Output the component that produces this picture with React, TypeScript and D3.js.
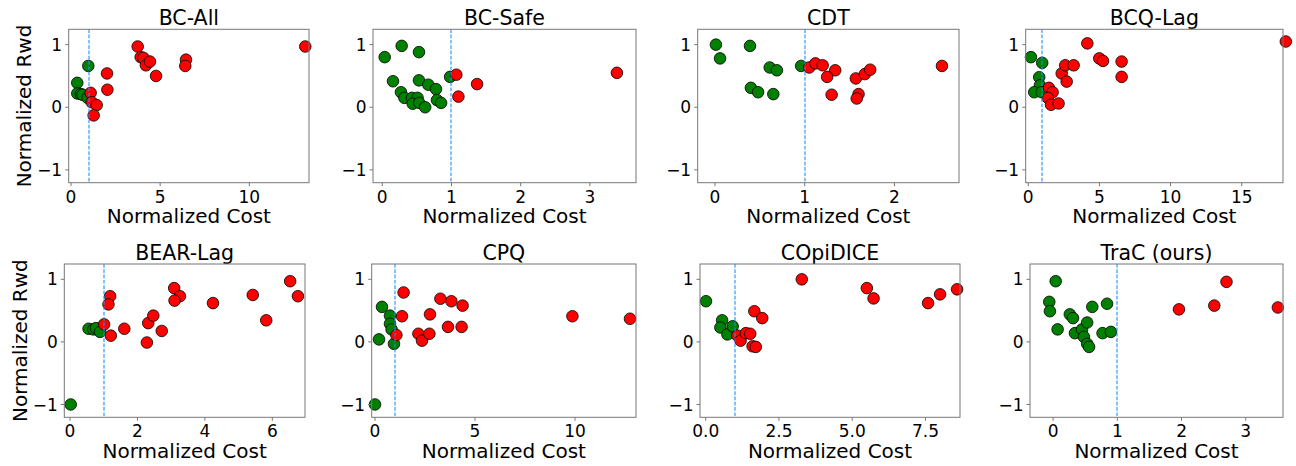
import React from "react";
import * as d3 from "d3";

type Pt = [number, number]; // [normalized cost, normalized reward]

// values, one array per algorithm
const bcAll: Pt[] = [
  [0.97, 0.66], [0.35, 0.39], [0.35, 0.22], [0.55, 0.21], [0.65, 0.2], [0.93, 0.15],
  [1.1, 0.23], [1.16, 0.08], [1.44, 0.035], [1.27, -0.13], [2.02, 0.54], [2.04, 0.28],
  [3.74, 0.97], [3.91, 0.8], [4.06, 0.79], [4.2, 0.67], [4.43, 0.73], [4.77, 0.5],
  [6.45, 0.76], [6.41, 0.66], [13.14, 0.97],
];

const bcSafe: Pt[] = [
  [0.28, 0.98], [0.035, 0.8], [0.53, 0.88], [0.155, 0.415], [0.53, 0.43], [0.665, 0.36],
  [0.776, 0.29], [0.27, 0.24], [0.32, 0.15], [0.43, 0.15], [0.51, 0.15], [0.44, 0.056],
  [0.535, 0.07], [0.62, 0.0], [0.79, 0.115], [0.85, 0.07], [0.98, 0.485],
  [1.07, 0.52], [1.37, 0.37], [1.1, 0.17], [3.39, 0.55],
];

const cdt: Pt[] = [
  [0.01, 1.0], [0.056, 0.78], [0.39, 0.98], [0.61, 0.635], [0.69, 0.59], [0.4, 0.31],
  [0.48, 0.24], [0.65, 0.21], [0.96, 0.66],
  [1.05, 0.635], [1.12, 0.7], [1.2, 0.67], [1.34, 0.59], [1.25, 0.485], [1.3, 0.2],
  [1.57, 0.46], [1.67, 0.53], [1.73, 0.6], [1.6, 0.21], [1.58, 0.14], [2.53, 0.66],
];

const bcqLag: Pt[] = [
  [0.19, 0.8], [0.98, 0.71], [0.77, 0.48], [0.82, 0.35], [0.42, 0.24], [0.94, 0.24],
  [1.45, 0.31], [1.71, 0.24], [1.38, 0.15], [1.6, 0.04], [2.13, 0.06], [2.35, 0.54],
  [2.6, 0.67], [3.19, 0.67], [2.7, 0.41], [4.15, 1.02], [4.99, 0.78], [5.25, 0.74],
  [6.56, 0.73], [6.56, 0.485], [18.1, 1.05],
];

const bearLag: Pt[] = [
  [0.02, -1.0], [0.55, 0.21], [0.69, 0.2], [0.77, 0.22], [0.89, 0.16],
  [1.01, 0.28], [1.19, 0.73], [1.14, 0.6], [1.21, 0.1], [1.61, 0.21], [2.28, -0.01],
  [2.32, 0.3], [2.47, 0.42], [2.72, 0.175], [3.09, 0.86], [3.26, 0.73], [3.1, 0.66],
  [4.24, 0.62], [5.42, 0.75], [5.82, 0.345], [6.53, 0.97], [6.76, 0.73],
];

const cpq: Pt[] = [
  [0.0, -1.0], [0.2, 0.04], [0.35, 0.56], [0.75, 0.42], [0.75, 0.29], [0.83, 0.2], [0.95, -0.03],
  [1.07, 0.11], [1.35, 0.41], [1.43, 0.79], [2.17, 0.13], [2.35, 0.02], [2.72, 0.13],
  [2.75, 0.44], [3.27, 0.69], [3.82, 0.65], [4.38, 0.58], [3.65, 0.24], [4.33, 0.24],
  [9.87, 0.41], [12.75, 0.37],
];

const copiDice: Pt[] = [
  [0.01, 0.65], [0.56, 0.345], [0.5, 0.23], [0.74, 0.12], [0.92, 0.25],
  [1.08, 0.1], [1.19, 0.02], [1.37, 0.14], [1.52, 0.13], [1.66, 0.49], [1.93, 0.38],
  [1.6, -0.07], [1.71, -0.08], [3.28, 1.0], [5.5, 0.86], [5.73, 0.695], [7.59, 0.62],
  [8.0, 0.76], [8.58, 0.84],
];

const trac: Pt[] = [
  [0.04, 0.97], [-0.06, 0.64], [-0.05, 0.49], [0.07, 0.2], [0.26, 0.44], [0.31, 0.38],
  [0.34, 0.14], [0.45, 0.2], [0.53, 0.31], [0.48, 0.08], [0.53, -0.03], [0.56, -0.08],
  [0.61, 0.56], [0.77, 0.14], [0.84, 0.61], [0.9, 0.16],
  [1.96, 0.52], [2.51, 0.58], [2.7, 0.96], [3.5, 0.55],
];

const costLimit = 1;
const yTicks = [-1, 0, 1];

interface Panel {
  title: string;
  data: Pt[];
  box: [number, number, number, number]; // left, right, top, bottom
  xDomain: [number, number];
  xTicks: number[];
  fmt: string;
  ylabel?: boolean;
}

const row1: [number, number] = [29.3, 182.7];
const row2: [number, number] = [264, 417.3];

const panels: Panel[] = [
  { title: "BC-All", data: bcAll, box: [68.7, 309, ...row1], xDomain: [-0.13, 13.35], xTicks: [0, 5, 10], fmt: "d", ylabel: true },
  { title: "BC-Safe", data: bcSafe, box: [373, 636, ...row1], xDomain: [-0.134, 3.666], xTicks: [0, 1, 2, 3], fmt: "d" },
  { title: "CDT", data: cdt, box: [697.7, 959, ...row1], xDomain: [-0.193, 2.72], xTicks: [0, 1, 2], fmt: "d" },
  { title: "BCQ-Lag", data: bcqLag, box: [1025.7, 1283, ...row1], xDomain: [-0.18, 17.9], xTicks: [0, 5, 10, 15], fmt: "d" },
  { title: "BEAR-Lag", data: bearLag, box: [64.3, 305, ...row2], xDomain: [-0.17, 6.97], xTicks: [0, 2, 4, 6], fmt: "d", ylabel: true },
  { title: "CPQ", data: cpq, box: [371.7, 636, ...row2], xDomain: [-0.165, 13.05], xTicks: [0, 5, 10], fmt: "d" },
  { title: "COpiDICE", data: copiDice, box: [700, 960, ...row2], xDomain: [-0.195, 8.68], xTicks: [0, 2.5, 5, 7.5], fmt: ".1f" },
  { title: "TraC (ours)", data: trac, box: [1030, 1283, ...row2], xDomain: [-0.36, 3.58], xTicks: [0, 1, 2, 3], fmt: "d" },
];

const font = "DejaVu Sans, sans-serif";
const spine = "#777";

const Scatter: React.FC<{ p: Panel }> = ({ p }) => {
  const [l, r, t, b] = p.box;
  const x = d3.scaleLinear().domain(p.xDomain).range([l, r]);
  const y = d3.scaleLinear().domain([-1.205, 1.245]).range([b, t]);
  const fx = d3.format(p.fmt);
  const fy = d3.format("d");
  const cx = (l + r) / 2;
  // put the limit line on a pixel boundary so it is spread over two pixels (light blue, like the original)
  const lx = Math.round(x(costLimit));
  return (
    <g>
      <text x={cx} y={t - 4.5} textAnchor="middle" fontSize={20.5} fontFamily={font}>{p.title}</text>
      <rect x={l} y={t} width={r - l} height={b - t} fill="white" />
      {p.data.map((d, i) => (
        <circle key={i} cx={x(d[0])} cy={y(d[1])} r={5.8}
          fill={d[0] <= costLimit ? "#008000" : "#ff0000"} stroke="#000" strokeWidth={0.8} />
      ))}
      <line x1={lx} x2={lx} y1={t} y2={b}
        stroke="#1e90ff" strokeWidth={1.1} strokeDasharray="3.7,1.6" />
      <rect x={l} y={t} width={r - l} height={b - t} fill="none" stroke={spine} strokeWidth={1} />
      {p.xTicks.map((v) => (
        <g key={v}>
          <line x1={x(v)} x2={x(v)} y1={b} y2={b + 3.5} stroke={spine} />
          <text x={x(v)} y={b + 20} textAnchor="middle" fontSize={17} fontFamily={font}>{fx(v)}</text>
        </g>
      ))}
      {yTicks.map((v) => (
        <g key={v}>
          <line x1={l - 3.5} x2={l} y1={y(v)} y2={y(v)} stroke={spine} />
          <text x={l - 6.5} y={y(v)} dy="0.36em" textAnchor="end" fontSize={17} fontFamily={font}>{fy(v)}</text>
        </g>
      ))}
      <text x={cx} y={b + 40.6} textAnchor="middle" fontSize={20} fontFamily={font}>Normalized Cost</text>
      {p.ylabel && (
        <text transform={`translate(${l - 37.5},${(t + b) / 2}) rotate(-90)`} textAnchor="middle"
          fontSize={20} fontFamily={font}>Normalized Rwd</text>
      )}
    </g>
  );
};

export default function App() {
  return (
    <svg width={1296} height={466} style={{ position: "absolute", left: 0, top: 0, background: "white" }}>
      {panels.map((p) => <Scatter key={p.title} p={p} />)}
    </svg>
  );
}
